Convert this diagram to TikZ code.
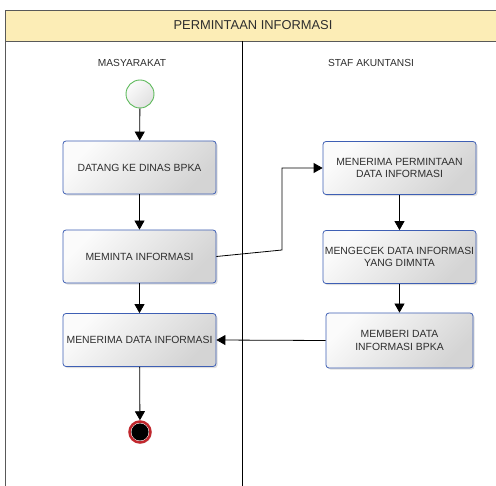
\documentclass[tikz,border=0pt]{standalone}
\usepackage{fontspec}
\setmainfont{Liberation Sans}
\usetikzlibrary{arrows.meta,shadows}
\definecolor{hdryel}{HTML}{FCEDB6}
\definecolor{actblue}{HTML}{3E5FB4}
\definecolor{startgrn}{HTML}{5CB95A}
\definecolor{endred}{HTML}{C1272D}
\definecolor{txtgry}{HTML}{2E2E2E}
\tikzset{
  act/.style={draw=actblue,line width=.8pt,rounded corners=3pt,
              top color=gray!3,bottom color=gray!34,shading angle=45,
              minimum width=153pt,minimum height=53pt,inner sep=1pt,
              font=\fontsize{10.4}{12.8}\selectfont,align=center,text=txtgry,
              drop shadow={shadow xshift=1.6pt,shadow yshift=-1.6pt,opacity=.25}},
  startnode/.style={circle,draw=startgrn,line width=.9pt,minimum size=28pt,
              top color=gray!3,bottom color=gray!24,shading angle=45},
  endnode/.style={circle,draw=endred,line width=2.5pt,minimum size=21pt,fill=white,
              path picture={\fill[black] (path picture bounding box.center) circle (8.6pt);},
              drop shadow={shadow xshift=1.2pt,shadow yshift=-1.2pt,opacity=.25}},
  ar/.style ={-{Triangle[length=9pt,width=10pt]},line width=.8pt},
  frm/.style={draw=black!65,line width=.8pt},
  hdr/.style={font=\fontsize{12.9}{15}\selectfont,text=txtgry},
  lane/.style={font=\fontsize{10.2}{12}\selectfont,text=txtgry},
}
\begin{document}
\begin{tikzpicture}[x=1pt,y=-1pt]
  \useasboundingbox (0,0) rectangle (496,486);
  % swimlane frame
  \fill[hdryel] (5,10) rectangle (500,41);
  \draw[frm] (500,10) -- (5,10) -- (5,486);
  \draw[frm] (5,41) -- (500,41);
  \draw[line width=.8pt] (242,41) -- (242,486);
  \node[hdr] (title) at (253,25.5){PERMINTAAN INFORMASI};
  \node[lane] (lanea) at (132,63){MASYARAKAT};
  \node[lane] (laneb) at (371,63){STAF AKUNTANSI};
  % masyarakat
  \node[startnode] (start) at (140,94){};
  \node[act] (datang) at (139.5,167.5){DATANG KE DINAS BPKA};
  \node[act] (minta) at (139.5,256.5){MEMINTA INFORMASI};
  \node[act] (terimadata) at (139.5,340){MENERIMA DATA INFORMASI};
  \node[endnode] (finish) at (140,432){};
  % staf akuntansi
  \node[act] (terimaminta) at (399.5,168){MENERIMA PERMINTAAN\\DATA INFORMASI};
  \node[act] (cek) at (399.5,257){MENGECEK DATA INFORMASI\\YANG DIMNTA};
  \node[act,minimum width=147pt,minimum height=55pt] (beri) at (399.5,340.5){MEMBERI DATA\\INFORMASI BPKA};
  \coordinate (elb) at (282,250);
  \draw[ar] (start) -- (datang);
  \draw[ar] (datang) -- (minta);
  \draw[ar] (minta) -- (terimadata);
  \draw[ar] (terimadata) -- (finish);
  \draw[ar] (minta.east) -- (elb) |- (terimaminta.west);
  \draw[ar] (terimaminta) -- (cek);
  \draw[ar] (cek) -- (beri);
  \draw[ar] (beri.west) -- (terimadata.east);
\end{tikzpicture}
\end{document}
